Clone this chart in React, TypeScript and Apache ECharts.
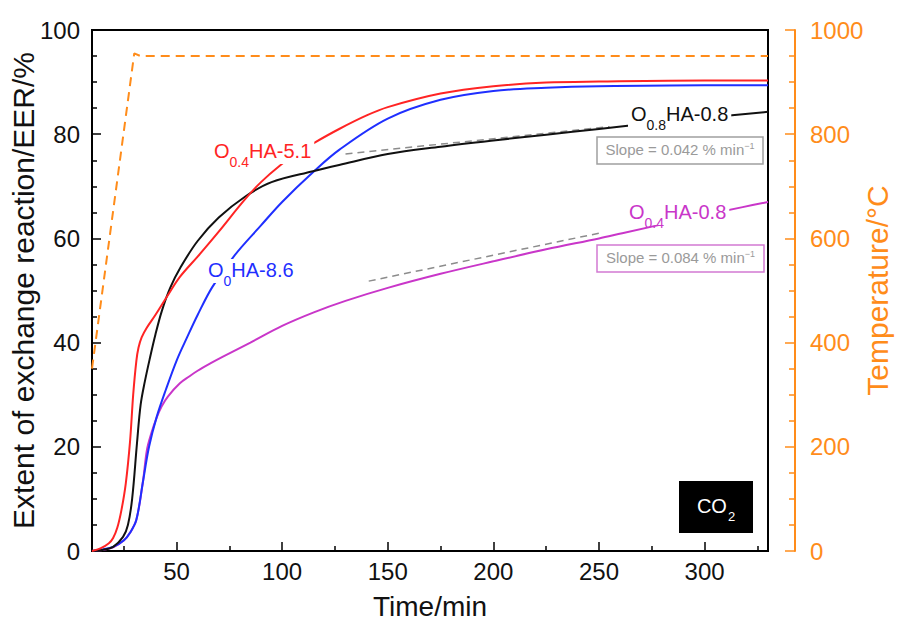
import React, { useEffect, useRef } from "react";
import * as echarts from "echarts";

// ---- Data ----
const timeRed = [10, 14, 18, 20, 22, 24, 26, 28, 29.5, 31, 32, 33.5, 36, 40, 45, 51.6, 60, 70, 82, 90, 99, 107, 115, 127, 140, 150, 175, 200, 225, 250, 300, 330];
const eerRed = [0, 0.5, 1.5, 2.5, 4.5, 8, 13, 21, 30, 36.5, 39, 41, 42.9, 45.3, 48.5, 52.6, 56.5, 61.3, 67.3, 70.8, 74, 76.3, 78.3, 81, 83.6, 85.2, 87.8, 89.2, 89.9, 90.1, 90.3, 90.3];

const timeBlue = [10, 15, 20, 25, 28, 31, 34, 37, 40.6, 45, 50.2, 55, 60, 67, 77.6, 90, 100, 114.6, 127, 150, 175, 200, 225, 250, 300, 330];
const eerBlue = [0, 0.3, 0.8, 2, 3.5, 6, 13, 20, 25.7, 31, 36.7, 41, 45.3, 50.7, 56.8, 62.5, 67, 72.7, 77, 83, 86.6, 88.3, 88.9, 89.2, 89.4, 89.4];

const timeBlack = [10, 15, 20, 24.7, 27, 29, 31.3, 33, 35, 37.4, 40, 43, 47, 52, 60, 70, 82.4, 95, 114.6, 127, 150, 175, 200, 225, 250, 275, 300, 330];
const eerBlack = [0, 0.2, 0.8, 2.7, 5, 10, 20.7, 28, 32.5, 37, 41.5, 46, 50.5, 54.5, 59.5, 64, 68, 70.8, 72.9, 74.1, 76.2, 77.6, 78.8, 79.9, 81, 82.1, 83.1, 84.3];

const timeMagenta = [10, 15, 20, 25, 28, 31, 34, 36, 38, 40.7, 43, 46, 51.6, 56, 60, 66, 72, 85, 100, 115, 130, 150, 175, 200, 225, 250, 261, 290, 318, 330];
const eerMagenta = [0, 0.2, 0.7, 2, 3.5, 6, 13, 19.4, 22.5, 25.7, 27.8, 29.7, 32.2, 33.5, 34.6, 36, 37.3, 40, 43.2, 45.8, 48, 50.5, 53.2, 55.6, 57.9, 60, 61, 63.6, 66, 67];

const timeTemp = [10, 30, 33, 330];
const tempC = [350, 955, 950, 950];

const slopeBlackT = [130, 255];
const slopeBlackV = [76.2, 81.45];
const slopeMagentaT = [141, 250];
const slopeMagentaV = [51.8, 61.0];

const xTickLabels = [50, 100, 150, 200, 250, 300];
const xMajorTicks = [50, 100, 150, 200, 250, 300];
const xMinorTicks = [25, 75, 125, 175, 225, 275, 325];

const FONT = '"Liberation Sans", Arial, Helvetica, sans-serif';
const RED = "#ff2424";
const BLUE = "#1f2fff";
const BLACK = "#111111";
const MAGENTA = "#c936c9";
const ORANGE = "#ff8c1a";
const GRAY = "#8c8c8c";

const pairs = (t: number[], v: number[]) => t.map((x, i) => [x, v[i]]);

function curve(name: string, t: number[], v: number[], color: string, width = 2) {
  return {
    name,
    type: "line",
    data: pairs(t, v),
    showSymbol: false,
    symbol: "none",
    smooth: 0.35,
    lineStyle: { color, width },
    z: 3,
  };
}

function sampleLabel(x: number, y: number, sub: string, rest: string, color: string) {
  return {
    type: "text",
    x,
    y,
    z: 100,
    style: {
      text: `{a|O}{s|${sub}}{a|${rest}}`,
      align: "left",
      verticalAlign: "top",
      backgroundColor: "#ffffff",
      padding: [1, 3, 1, 3],
      rich: {
        a: { fontFamily: FONT, fontSize: 20, lineHeight: 22, verticalAlign: "top", fill: color },
        s: { fontFamily: FONT, fontSize: 14, lineHeight: 14, verticalAlign: "top", padding: [14, 0, 0, 0], fill: color },
      },
    },
  };
}

function slopeBox(x: number, y: number, w: number, h: number, value: string, stroke: string) {
  return [
    {
      type: "rect",
      z: 100,
      shape: { x, y, width: w, height: h },
      style: { fill: "#ffffff", stroke, lineWidth: 1.5 },
    },
    {
      type: "text",
      z: 101,
      x: x + w / 2,
      y: y + h / 2,
      style: {
        text: `{t|Slope = ${value} % min}{p|−1}`,
        align: "center",
        verticalAlign: "middle",
        rich: {
          t: { fontFamily: FONT, fontSize: 15, lineHeight: 18, verticalAlign: "top", fill: "#9a9a9a" },
          p: { fontFamily: FONT, fontSize: 9, lineHeight: 9, verticalAlign: "top", fill: "#9a9a9a" },
        },
      },
    },
  ];
}

export default function App() {
  const ref = useRef<HTMLDivElement>(null);
  useEffect(() => {
    document.body.style.margin = "0";
    const chart = echarts.init(ref.current!, null, { renderer: "svg" });
    const tickStyle = { color: "#000", width: 1.5 };
    const option: any = {
      animation: false,
      backgroundColor: "#ffffff",
      textStyle: { fontFamily: FONT },
      grid: {
        left: 92,
        right: 129,
        top: 30,
        bottom: 73,
        containLabel: false,
        outerBoundsMode: "none",
        show: true,
        borderColor: "#000",
        borderWidth: 2,
        backgroundColor: "transparent",
      },
      xAxis: [
        {
          type: "value",
          min: 10,
          max: 330,
          position: "bottom",
          axisLine: { show: true, lineStyle: { color: "#000", width: 2 } },
          axisTick: { show: true, inside: true, length: 9, lineStyle: tickStyle, customValues: xMajorTicks },
          axisLabel: { customValues: xTickLabels, fontSize: 24, color: "#111", margin: 8, fontFamily: FONT, formatter: (v: number) => String(v) },
          splitLine: { show: false },
          name: "Time/min",
          nameLocation: "middle",
          nameGap: 41,
          nameMoveOverlap: false,
          nameTextStyle: { fontSize: 28, color: "#111", fontFamily: FONT },
        },
        {
          type: "value",
          min: 10,
          max: 330,
          position: "bottom",
          axisLine: { show: false },
          axisTick: { show: true, inside: true, length: 5, lineStyle: tickStyle, customValues: xMinorTicks },
          axisLabel: { show: false },
          splitLine: { show: false },
        },
      ],
      yAxis: [
        {
          type: "value",
          min: 0,
          max: 100,
          interval: 20,
          position: "left",
          axisLine: { show: true, lineStyle: { color: "#000", width: 2 } },
          axisTick: { show: true, inside: true, length: 9, lineStyle: tickStyle },
          minorTick: { show: true, splitNumber: 4, length: 5, lineStyle: tickStyle },
          axisLabel: { fontSize: 24, color: "#111", margin: 12, fontFamily: FONT, formatter: (v: number) => String(v) },
          splitLine: { show: false },
          name: "Extent of exchange reaction/EER/%",
          nameLocation: "middle",
          nameGap: 54,
          nameMoveOverlap: false,
          nameTextStyle: { fontSize: 30, color: "#111", fontFamily: FONT },
        },
        {
          type: "value",
          min: 0,
          max: 1000,
          interval: 200,
          position: "right",
          offset: 27,
          axisLine: { show: true, lineStyle: { color: ORANGE, width: 2 } },
          axisTick: { show: true, inside: true, length: 10, lineStyle: { color: ORANGE, width: 1.5 } },
          minorTick: { show: true, splitNumber: 4, length: 6, lineStyle: { color: ORANGE, width: 1.5 } },
          axisLabel: { fontSize: 24, color: ORANGE, margin: 15, fontFamily: FONT, formatter: (v: number) => String(v) },
          splitLine: { show: false },
          name: "Temperature/°C",
          nameLocation: "middle",
          nameGap: 67,
          nameMoveOverlap: false,
          nameTextStyle: { fontSize: 30, color: ORANGE, fontFamily: FONT },
        },
      ],
      series: [
        {
          name: "Temperature",
          type: "line",
          yAxisIndex: 1,
          data: pairs(timeTemp, tempC),
          showSymbol: false,
          symbol: "none",
          lineStyle: { color: ORANGE, width: 2, type: [9, 6] },
          z: 2,
        },
        {
          name: "slope O0.8HA-0.8",
          type: "line",
          data: pairs(slopeBlackT, slopeBlackV),
          showSymbol: false,
          symbol: "none",
          lineStyle: { color: GRAY, width: 1.5, type: [7, 5] },
          z: 2,
        },
        {
          name: "slope O0.4HA-0.8",
          type: "line",
          data: pairs(slopeMagentaT, slopeMagentaV),
          showSymbol: false,
          symbol: "none",
          lineStyle: { color: GRAY, width: 1.5, type: [7, 5] },
          z: 2,
        },
        curve("O0.4HA-0.8", timeMagenta, eerMagenta, MAGENTA),
        curve("O0HA-8.6", timeBlue, eerBlue, BLUE),
        curve("O0.8HA-0.8", timeBlack, eerBlack, BLACK),
        curve("O0.4HA-5.1", timeRed, eerRed, RED),
      ],
      graphic: [
        sampleLabel(211, 140, "0.4", "HA-5.1", RED),
        sampleLabel(205, 259, "0", "HA-8.6", BLUE),
        sampleLabel(628, 103, "0.8", "HA-0.8", BLACK),
        sampleLabel(626, 201, "0.4", "HA-0.8", MAGENTA),
        ...slopeBox(597, 137, 166, 27, "0.042", "#a0a0a0"),
        ...slopeBox(597, 245, 167, 27, "0.084", "#d27ad2"),
        {
          type: "rect",
          z: 100,
          shape: { x: 679, y: 481, width: 74, height: 52 },
          style: { fill: "#000000" },
        },
        {
          type: "text",
          z: 101,
          x: 716,
          y: 507,
          style: {
            text: "{a|CO}{s|2}",
            align: "center",
            verticalAlign: "middle",
            rich: {
              a: { fontFamily: FONT, fontSize: 20, lineHeight: 22, verticalAlign: "top", fill: "#ffffff" },
              s: { fontFamily: FONT, fontSize: 13, lineHeight: 13, verticalAlign: "top", padding: [14, 0, 0, 1], fill: "#ffffff" },
            },
          },
        },
      ],
    };
    chart.setOption(option);
    return () => chart.dispose();
  }, []);
  return <div ref={ref} style={{ width: 897, height: 624 }} />;
}
